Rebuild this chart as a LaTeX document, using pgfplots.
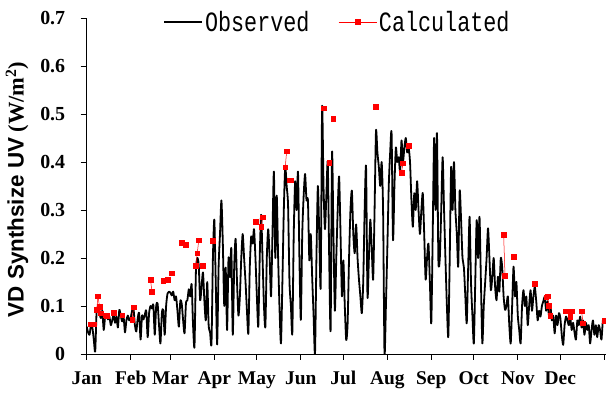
\documentclass[border=0pt]{standalone}
\usepackage{fontspec}
\setmainfont{Liberation Serif}
\newfontfamily\labsans{Liberation Sans}
\newfontfamily\labserif{Liberation Serif}
\newfontfamily\legfont[FakeStretch=0.78]{Liberation Mono}
\newcommand\sanspart[1]{{\labsans #1}}
\newcommand\serifpart[1]{{\labserif #1}}
\usepackage{pgfplots}
\pgfplotsset{compat=1.18}
\usepackage{pgfplotstable}

\pgfplotstableread{
day val
0 0.057
1 0.045
2 0.040
3 0.060
4 0.055
5 0.030
6 0.005
7 0.090
8 0.095
9 0.085
10 0.075
11 0.090
12 0.050
13 0.078
14 0.082
15 0.072
16 0.078
17 0.060
18 0.070
19 0.082
20 0.065
21 0.078
22 0.055
23 0.092
24 0.080
25 0.068
26 0.078
27 0.045
28 0.070
29 0.080
30 0.070
31 0.075
32 0.090
33 0.095
34 0.060
35 0.047
36 0.075
37 0.085
38 0.030
39 0.080
40 0.072
41 0.082
42 0.090
43 0.035
44 0.085
45 0.100
46 0.095
47 0.102
48 0.040
49 0.100
50 0.105
51 0.060
52 0.022
53 0.085
54 0.092
55 0.040
56 0.100
57 0.126
58 0.130
59 0.128
60 0.122
61 0.130
62 0.112
63 0.120
64 0.090
65 0.057
66 0.110
67 0.105
68 0.070
69 0.043
70 0.106
71 0.112
72 0.135
73 0.120
74 0.145
75 0.060
76 0.015
77 0.170
78 0.200
79 0.185
80 0.112
81 0.140
82 0.170
83 0.110
84 0.070
85 0.150
86 0.060
87 0.045
88 0.022
89 0.200
90 0.280
91 0.150
92 0.020
93 0.180
94 0.250
95 0.320
96 0.230
97 0.100
98 0.180
99 0.050
100 0.200
101 0.160
102 0.220
103 0.040
104 0.180
105 0.240
106 0.150
107 0.080
108 0.119
109 0.200
110 0.250
111 0.200
112 0.150
113 0.090
114 0.043
115 0.180
116 0.245
117 0.230
118 0.260
119 0.200
120 0.120
121 0.057
122 0.200
123 0.290
124 0.200
125 0.100
126 0.057
127 0.200
128 0.260
129 0.200
130 0.120
131 0.250
132 0.380
133 0.200
134 0.330
135 0.200
136 0.092
137 0.022
138 0.150
139 0.300
140 0.390
141 0.350
142 0.310
143 0.150
144 0.100
145 0.043
146 0.250
147 0.360
148 0.300
149 0.380
150 0.200
151 0.071
152 0.250
153 0.330
154 0.375
155 0.320
156 0.320
157 0.195
158 0.250
159 0.160
160 0.080
161 0.000
162 0.200
163 0.350
164 0.250
165 0.140
166 0.515
167 0.350
168 0.260
169 0.330
170 0.400
171 0.200
172 0.050
173 0.420
174 0.250
175 0.090
176 0.200
177 0.300
178 0.370
179 0.250
180 0.120
181 0.195
182 0.100
183 0.029
184 0.064
185 0.200
186 0.300
187 0.340
188 0.250
189 0.210
190 0.270
191 0.200
192 0.155
193 0.120
194 0.085
195 0.150
196 0.300
197 0.390
198 0.120
199 0.200
200 0.280
201 0.220
202 0.155
203 0.300
204 0.465
205 0.420
206 0.390
207 0.350
208 0.400
209 0.300
210 0.000
211 0.100
212 0.220
213 0.350
214 0.420
215 0.460
216 0.237
217 0.350
218 0.430
219 0.400
220 0.410
221 0.380
222 0.445
223 0.400
224 0.430
225 0.450
226 0.420
227 0.430
228 0.400
229 0.320
230 0.265
231 0.335
232 0.300
233 0.360
234 0.300
235 0.250
236 0.300
237 0.335
238 0.250
239 0.155
240 0.200
241 0.230
242 0.150
243 0.064
244 0.250
245 0.450
246 0.300
247 0.460
248 0.195
249 0.200
250 0.300
251 0.410
252 0.300
253 0.196
254 0.100
255 0.036
256 0.200
257 0.390
258 0.300
259 0.400
260 0.300
261 0.250
262 0.182
263 0.340
264 0.280
265 0.200
266 0.180
267 0.120
268 0.064
269 0.180
270 0.286
271 0.150
272 0.080
273 0.022
274 0.150
275 0.279
276 0.200
277 0.286
278 0.150
279 0.022
280 0.100
281 0.150
282 0.200
283 0.262
284 0.200
285 0.133
286 0.160
287 0.200
288 0.140
289 0.112
290 0.161
291 0.130
292 0.200
293 0.180
294 0.120
295 0.092
296 0.100
297 0.120
298 0.060
299 0.022
300 0.100
301 0.182
302 0.120
303 0.150
304 0.080
305 0.050
306 0.022
307 0.100
308 0.133
309 0.100
310 0.120
311 0.060
312 0.100
313 0.133
314 0.090
315 0.120
316 0.140
317 0.110
318 0.070
319 0.090
320 0.078
321 0.100
322 0.110
323 0.119
324 0.090
325 0.110
326 0.080
327 0.100
328 0.070
329 0.080
330 0.043
331 0.080
332 0.060
333 0.085
334 0.075
335 0.040
336 0.019
337 0.060
338 0.078
339 0.070
340 0.060
341 0.075
342 0.050
343 0.065
344 0.045
345 0.030
346 0.070
347 0.060
348 0.078
349 0.055
350 0.070
351 0.040
352 0.065
353 0.050
354 0.060
355 0.022
356 0.050
357 0.070
358 0.040
359 0.060
360 0.035
361 0.060
362 0.050
363 0.030
364 0.070
365 0.072
}\obs

\pgfplotstableread{
day val
3 0.062
5 0.062
nan nan
7 0.092
8 0.120
9 0.099
10 0.085
nan nan
13 0.081
14 0.080
nan nan
19 0.086
nan nan
25 0.081
nan nan
32 0.071
33 0.097
nan nan
45 0.155
46 0.130
nan nan
54 0.152
nan nan
57 0.155
nan nan
60 0.168
nan nan
67 0.232
nan nan
70 0.227
nan nan
77 0.184
78 0.210
79 0.237
nan nan
82 0.184
nan nan
89 0.236
nan nan
119 0.276
nan nan
123 0.265
124 0.285
nan nan
140 0.389
141 0.422
nan nan
143 0.362
144 0.362
nan nan
167 0.512
nan nan
171 0.399
nan nan
174 0.490
nan nan
204 0.515
nan nan
222 0.378
223 0.397
nan nan
227 0.434
nan nan
294 0.249
295 0.163
nan nan
301 0.203
nan nan
316 0.146
nan nan
324 0.118
325 0.120
326 0.100
327 0.080
nan nan
338 0.089
nan nan
341 0.078
342 0.089
nan nan
349 0.089
350 0.064
nan nan
365 0.069
}\calc

\begin{document}
\begin{tikzpicture}
\useasboundingbox (-86.7bp,-42bp) rectangle (519.3bp,354bp);
\begin{axis}[
  at={(0,0)}, anchor=south west,
  scale only axis, width=519.3bp, height=336bp,
  xmin=0, xmax=366.2, ymin=0, ymax=0.7,
  axis lines*=left,
  axis line style={black, line width=0.8bp},
  tick style={black, line width=0.8bp},
  tick align=outside, major tick length=6bp,
  xtick={0,31,59,90,120,151,181,212,243,273,304,334,365},
  xticklabels={Jan,Feb,Mar,Apr,May,Jun,Jul,Aug,Sep,Oct,Nov,Dec,},
  ytick={0,0.1,0.2,0.3,0.4,0.5,0.6,0.7},
  yticklabels={0,0.1,0.2,0.3,0.4,0.5,0.6,0.7},
  xticklabel style={font=\fontsize{19.5}{21}\selectfont\bfseries, yshift=-8bp},
  yticklabel style={font=\fontsize{20}{22}\selectfont\bfseries, xshift=-12bp},
  ylabel={\sanspart{VD Synthsize UV} \serifpart{(W/m\textsuperscript{2})}},
  ylabel style={font=\fontsize{22.5}{24}\selectfont\bfseries, at={(rel axis cs:-0.1342,0.49)}, anchor=center},
  unbounded coords=jump,
  legend columns=2,
  legend image code/.code={\draw[mark repeat=2,mark phase=2,#1] plot coordinates {(0bp,0bp) (19bp,0bp) (38bp,0bp)};},
  legend style={at={(rel axis cs:0.147,0.988)}, anchor=west, draw=none, fill=none, inner sep=0pt,
    font=\legfont\fontsize{28}{30}\selectfont, cells={anchor=west, inner sep=1bp},
    /tikz/column 2/.style={column sep=27bp}},
]
\addplot[black, line width=1.8bp, smooth, tension=0.4, line join=round] table[x=day, y=val] {\obs};
\addlegendentry{Observed}
\addplot[red, line width=0.5bp, mark=square*, mark size=2.3bp, mark options={solid, fill=red}] table[x=day, y=val] {\calc};
\addlegendentry{Calculated}
\end{axis}
\end{tikzpicture}
\end{document}
